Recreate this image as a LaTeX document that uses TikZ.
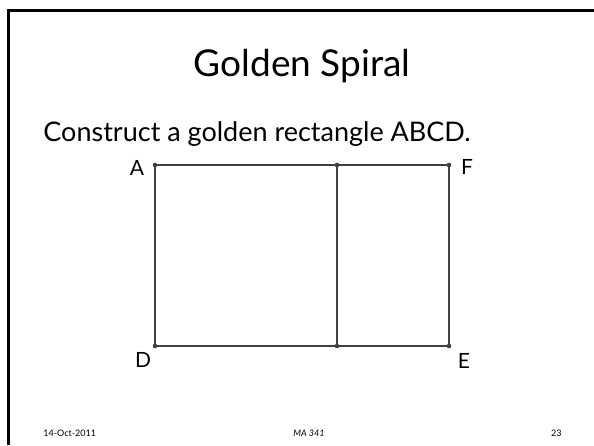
\documentclass[tikz,border=0pt]{standalone}
\usepackage{fontspec}
\setmainfont{Lato}
\usepackage{tikz}
\usetikzlibrary{positioning}
\tikzset{every picture/.append style={thick}}
\definecolor{edgegray}{HTML}{404040}

\begin{document}
\begin{tikzpicture}[x=1pt,y=-1pt]
    \useasboundingbox (0,0) rectangle (594,445);

    % Slide frame
    \draw[line width=3pt, black] (8,445) -- (8,10) -- (594,10);

    % Title and text
    \node[anchor=base, font=\fontsize{37}{40}\selectfont] (title) at (302,76) {Golden Spiral};
    \node[anchor=base west, inner sep=0pt, font=\fontsize{27}{32}\selectfont] (task) at (43,141) {Construct a golden rectangle ABCD.};

    % Corners
    \coordinate (A) at (155,165);
    \coordinate (B) at (337,165);
    \coordinate (F) at (449,165);
    \coordinate (D) at (155,346);
    \coordinate (C) at (337,346);
    \coordinate (E) at (449,346);

    % Rectangle
    \draw[line width=1.8pt, edgegray] (A) -- (F) -- (E) -- (D) -- cycle;
    \draw[line width=1.8pt, edgegray] (B) -- (C);
    \foreach \p in {A,B,F,D,C,E}
        \fill[edgegray] (\p) circle (2.3pt);

    % Labels
    \node[font=\fontsize{21}{24}\selectfont] (labA) at (137,168) {A};
    \node[font=\fontsize{21}{24}\selectfont] (labF) at (467,167) {F};
    \node[font=\fontsize{21}{24}\selectfont] (labD) at (143,360) {D};
    \node[font=\fontsize{21}{24}\selectfont] (labE) at (464,361) {E};

    % Footer
    \node[anchor=base west, inner sep=0pt, font=\fontsize{9}{10}\selectfont] (date) at (43,436) {14-Oct-2011};
    \node[anchor=base west, inner sep=0pt, font=\fontsize{9}{10}\selectfont\itshape] (course) at (293,436) {MA 341};
    \node[anchor=base east, inner sep=0pt, font=\fontsize{9}{10}\selectfont] (page) at (562,436) {23};
\end{tikzpicture}
\end{document}
